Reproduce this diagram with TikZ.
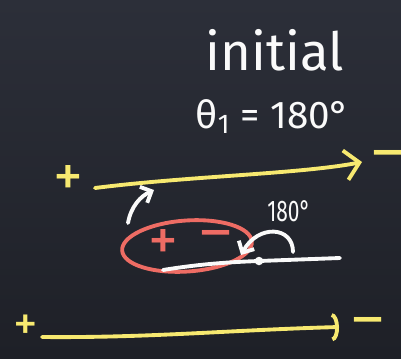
\documentclass[tikz,border=0pt]{standalone}
\usepackage{fontspec}
\setmainfont{Fira Sans}
\usetikzlibrary{arrows.meta,shapes.geometric}

\definecolor{boardtop}{RGB}{44,47,57}
\definecolor{boardbot}{RGB}{30,32,39}
\definecolor{chalkyellow}{RGB}{247,233,112}
\definecolor{chalkred}{RGB}{238,108,100}
\definecolor{chalkwhite}{RGB}{250,250,250}

\begin{document}
\begin{tikzpicture}[
    x=0.02cm, y=-0.02cm,
    chalk/.style={line width=2.2pt, line cap=round, line join=round},
    ylw/.style={chalk, draw=chalkyellow},
    wht/.style={chalk, draw=chalkwhite},
    sign/.style={inner sep=0pt, font=\fontsize{34}{34}\selectfont},
    hand/.style={inner sep=0pt, anchor=base, text=chalkwhite},
    barb/.style={-{Straight Barb[length=8pt,width=17pt]}},
    smallbarb/.style={-{Straight Barb[length=5pt,width=10pt]}},
    arcbarb/.style={-{Arc Barb[length=4pt,width=16pt]}}
]

% Tafel
\useasboundingbox (0,0) rectangle (401,358);
\shade[top color=boardtop, bottom color=boardbot] (0,0) rectangle (401,358);

% Titel
\node[hand, font=\fontsize{30}{30}\selectfont] (titel) at (275,71) {initial};
\node[hand, font=\fontsize{22}{22}\selectfont] (winkel) at (273,128) {θ\textsubscript{1} = 180°};

% obere Achse
\node[sign, text=chalkyellow] (plusA) at (68,181) {+};
\node[sign, text=chalkyellow] (minusA) at (388,161) {–};
\coordinate (achseAL) at (95,188);
\coordinate (achseAR) at (362,162);
\draw[ylw, barb] (achseAL) .. controls (190,176) and (300,174) .. (achseAR);

% Drehpfeil
\coordinate (drehS) at (128,223);
\coordinate (drehE) at (154,190);
\draw[wht, smallbarb] (drehS) .. controls (131,206) and (141,196) .. (drehE);

% Pol mit Ellipse
\node[ellipse, draw=chalkred, chalk, minimum width=2.6cm, minimum height=1.02cm, rotate=4] (pol) at (187,246) {};
\node[sign, text=chalkred] (plusP) at (163,245) {+};
\node[sign, text=chalkred] (minusP) at (216,241) {–};

% Stab mit Drehpunkt
\node[circle, fill=chalkwhite, inner sep=0pt, minimum size=0.17cm] (punkt) at (259,261) {};
\coordinate (stabL) at (163,270);
\coordinate (stabR) at (340,258);
\draw[wht] (stabL) .. controls (200,264) and (230,262) .. (punkt.center) -- (stabR);

% Winkelbogen
\node[hand, font=\fontsize{17}{17}\selectfont, transform shape, xscale=0.7] (halb) at (289,221) {180°};
\coordinate (bogenS) at (293,252);
\coordinate (bogenE) at (241,255);
\draw[wht, smallbarb] (bogenS) .. controls (293,226) and (258,224) .. (bogenE);

% untere Achse
\node[sign, text=chalkyellow, font=\fontsize{28}{28}\selectfont] (plusB) at (26,328) {+};
\node[sign, text=chalkyellow] (minusB) at (368,328) {–};
\coordinate (achseBL) at (42,337);
\coordinate (achseBR) at (339,327);
\draw[ylw, arcbarb] (achseBL) .. controls (150,338) and (230,330) .. (achseBR);

\end{tikzpicture}
\end{document}
